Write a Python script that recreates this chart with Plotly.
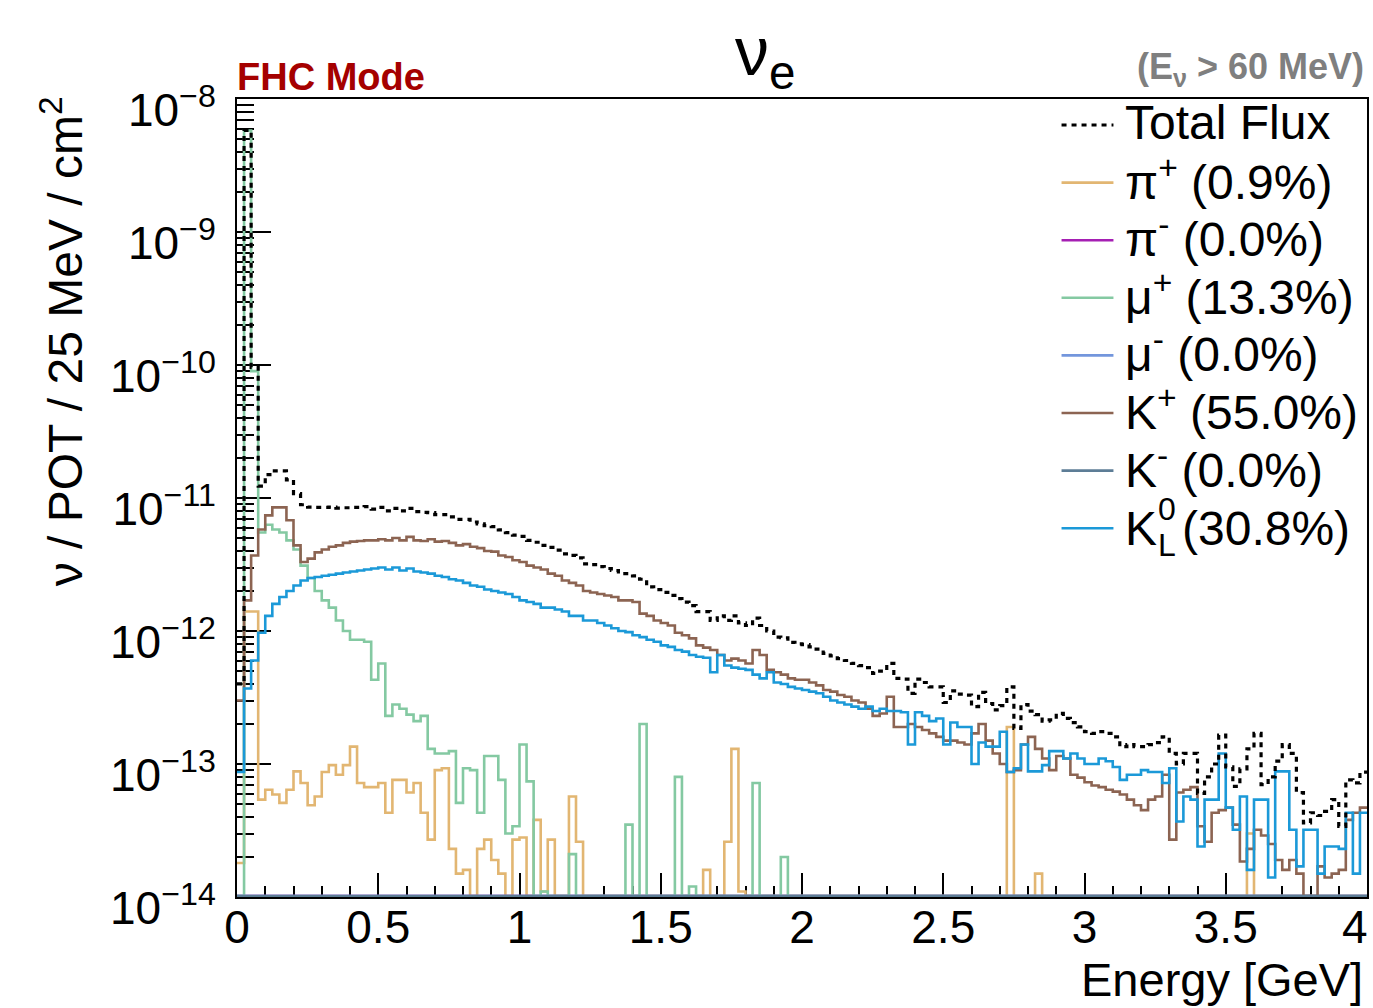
import plotly.graph_objects as go

# ---------------- data (nu / POT / 25 MeV / cm^2, 25 MeV bins from 0 to 4 GeV) ----------------
bin_width = 0.025
n_bins = 160
bin_edges = [round(i * bin_width, 4) for i in range(n_bins + 1)]

total_flux = [
    4.0e-13, 5.8e-9, 9.6e-11, 1.23e-11, 1.5e-11, 1.6e-11, 1.6e-11, 1.37e-11, 1.08e-11, 8.9e-12,
    8.55e-12, 8.5e-12, 8.5e-12, 8.55e-12, 8.4e-12, 8.45e-12, 8.5e-12, 8.5e-12, 8.6e-12, 8.25e-12,
    8.5e-12, 8.0e-12, 8.35e-12, 8.0e-12, 8.35e-12, 7.9e-12, 7.8e-12, 7.75e-12, 7.5e-12, 7.5e-12,
    7.2e-12, 6.9e-12, 6.9e-12, 6.6e-12, 6.4e-12, 6.2e-12, 6.1e-12, 5.75e-12, 5.5e-12, 5.25e-12,
    5.15e-12, 4.8e-12, 4.65e-12, 4.4e-12, 4.25e-12, 4.05e-12, 3.8e-12, 3.7e-12, 3.55e-12, 3.2e-12,
    3.15e-12, 3.05e-12, 2.95e-12, 2.85e-12, 2.7e-12, 2.7e-12, 2.6e-12, 2.45e-12, 2.15e-12, 2.05e-12,
    1.95e-12, 1.85e-12, 1.75e-12, 1.65e-12, 1.55e-12, 1.4e-12, 1.4e-12, 1.2e-12, 1.3e-12, 1.2e-12,
    1.3e-12, 1.15e-12, 1.1e-12, 1.25e-12, 1.1e-12, 1.0e-12, 9.0e-13, 8.9e-13, 8.2e-13, 8.0e-13,
    7.9e-13, 7.6e-13, 7.3e-13, 6.8e-13, 6.5e-13, 6.2e-13, 6.0e-13, 5.7e-13, 5.5e-13, 5.3e-13,
    4.8e-13, 5.0e-13, 5.7e-13, 4.4e-13, 4.35e-13, 3.4e-13, 4.35e-13, 4.1e-13, 3.8e-13, 3.8e-13,
    2.9e-13, 3.55e-13, 3.35e-13, 3.3e-13, 2.7e-13, 3.45e-13, 2.85e-13, 2.55e-13, 2.75e-13, 3.8e-13,
    1.85e-13, 2.8e-13, 2.5e-13, 2.35e-13, 2.1e-13, 2.15e-13, 2.4e-13, 2.2e-13, 2.05e-13, 1.9e-13,
    1.75e-13, 1.7e-13, 1.75e-13, 1.7e-13, 1.6e-13, 1.35e-13, 1.4e-13, 1.35e-13, 1.35e-13, 1.4e-13,
    1.45e-13, 1.6e-13, 1.2e-13, 1.0e-13, 1.2e-13, 1.2e-13, 6.0e-14, 8.0e-14, 1.0e-13, 1.65e-13,
    9.5e-14, 6.8e-14, 9.2e-14, 1.3e-13, 1.7e-13, 7.0e-14, 8.0e-14, 1.05e-13, 1.4e-13, 1.2e-13,
    6.1e-14, 3.6e-14, 4.3e-14, 4.1e-14, 4.4e-14, 5.4e-14, 3.4e-14, 7.6e-14, 7.2e-14, 8.7e-14,
]

pi_plus = [
    1.8e-14, 1.4e-12, 1.4e-12, 5.4e-14, 6.4e-14, 5.9e-14, 5.1e-14, 6.4e-14, 8.8e-14, 7.2e-14,
    4.9e-14, 5.7e-14, 8.7e-14, 9.8e-14, 8.3e-14, 9.8e-14, 1.35e-13, 7.2e-14, 6.7e-14, 6.7e-14,
    7.2e-14, 4.3e-14, 7.6e-14, 7.6e-14, 6.1e-14, 7.2e-14, 4.3e-14, 2.7e-14, 9.0e-14, 9.3e-14,
    2.3e-14, 1.5e-14, 1.6e-14, 0, 2.3e-14, 2.7e-14, 1.9e-14, 1.5e-14, 0, 2.7e-14,
    2.8e-14, 0, 3.8e-14, 1.1e-14, 2.7e-14, 0, 0, 5.7e-14, 2.6e-14, 0,
    0, 0, 0, 0, 0, 0, 0, 0, 0, 0,
    0, 0, 0, 0, 0, 0, 1.6e-14, 0, 0, 2.6e-14,
    1.3e-13, 1.1e-14, 0, 0, 0, 0, 0, 0, 0, 0,
    0, 0, 0, 0, 0, 0, 0, 0, 0, 0,
    0, 0, 0, 0, 0, 0, 0, 0, 0, 0,
    0, 0, 0, 0, 0, 0, 0, 0, 0, 1.9e-13,
    0, 0, 0, 1.5e-14, 0, 0, 0, 0, 0, 0,
    0, 0, 0, 0, 0, 0, 0, 0, 0, 0,
    0, 0, 0, 0, 0, 0, 0, 0, 0, 0,
    0, 0, 0, 3.0e-14, 0, 0, 0, 0, 0, 0,
    0, 0, 0, 0, 0, 0, 0, 0, 0, 0,
]

pi_minus = [0.0] * n_bins

mu_plus = [
    0, 5.8e-9, 9.0e-11, 5.5e-12, 6.3e-12, 5.8e-12, 5.5e-12, 4.8e-12, 4.1e-12, 3.1e-12,
    2.5e-12, 2.0e-12, 1.7e-12, 1.5e-12, 1.2e-12, 1.0e-12, 8.6e-13, 8.6e-13, 8.3e-13, 4.3e-13,
    5.7e-13, 2.3e-13, 2.8e-13, 2.6e-13, 2.35e-13, 2.1e-13, 2.3e-13, 1.3e-13, 1.2e-13, 1.2e-13,
    1.25e-13, 5.1e-14, 9.3e-14, 9.0e-14, 4.3e-14, 1.15e-13, 1.15e-13, 7.6e-14, 3.0e-14, 3.4e-14,
    1.4e-13, 7.4e-14, 0, 1.1e-14, 0, 0, 0, 2.1e-14, 0, 0,
    0, 0, 0, 0, 0, 3.5e-14, 0, 2.0e-13, 0, 0,
    0, 0, 8.0e-14, 0, 1.2e-14, 0, 0, 0, 0, 0,
    0, 0, 0, 7.2e-14, 0, 0, 0, 2.0e-14, 0, 0,
] + [0.0] * 80

mu_minus = [0.0] * n_bins

k_plus = [
    3.0e-13, 1.7e-12, 3.7e-12, 5.8e-12, 7.4e-12, 8.5e-12, 8.5e-12, 6.8e-12, 4.4e-12, 3.3e-12,
    3.5e-12, 3.9e-12, 4.1e-12, 4.3e-12, 4.4e-12, 4.6e-12, 4.7e-12, 4.75e-12, 4.8e-12, 4.8e-12,
    4.9e-12, 4.8e-12, 5.0e-12, 4.8e-12, 5.1e-12, 4.8e-12, 4.75e-12, 4.9e-12, 4.7e-12, 4.75e-12,
    4.6e-12, 4.4e-12, 4.5e-12, 4.3e-12, 4.2e-12, 4.0e-12, 3.95e-12, 3.7e-12, 3.6e-12, 3.4e-12,
    3.3e-12, 3.1e-12, 3.0e-12, 2.9e-12, 2.7e-12, 2.6e-12, 2.4e-12, 2.3e-12, 2.2e-12, 2.0e-12,
    1.95e-12, 1.9e-12, 1.85e-12, 1.8e-12, 1.7e-12, 1.7e-12, 1.65e-12, 1.35e-12, 1.3e-12, 1.2e-12,
    1.15e-12, 1.1e-12, 9.7e-13, 9.3e-13, 8.8e-13, 7.8e-13, 7.5e-13, 7.2e-13, 6.6e-13, 6.0e-13,
    6.2e-13, 6.0e-13, 5.7e-13, 7.2e-13, 6.6e-13, 5.1e-13, 4.9e-13, 4.7e-13, 4.4e-13, 4.3e-13,
    4.3e-13, 4.1e-13, 3.9e-13, 3.6e-13, 3.5e-13, 3.3e-13, 3.2e-13, 3.0e-13, 2.9e-13, 2.6e-13,
    2.3e-13, 2.4e-13, 3.2e-13, 1.9e-13, 1.9e-13, 2.0e-13, 1.9e-13, 1.8e-13, 1.7e-13, 1.6e-13,
    1.5e-13, 1.5e-13, 1.45e-13, 1.4e-13, 1.7e-13, 2.0e-13, 1.5e-13, 1.2e-13, 1.0e-13, 8.7e-14,
    9.0e-14, 1.4e-13, 1.6e-13, 1.3e-13, 1.1e-13, 9.0e-14, 1.15e-13, 1.1e-13, 8.3e-14, 7.9e-14,
    7.3e-14, 6.9e-14, 6.7e-14, 6.4e-14, 6.2e-14, 5.9e-14, 5.4e-14, 4.9e-14, 4.5e-14, 5.4e-14,
    5.7e-14, 8.3e-14, 2.7e-14, 6.1e-14, 6.4e-14, 6.7e-14, 3.4e-14, 2.6e-14, 4.3e-14, 4.5e-14,
    4.7e-14, 3.5e-14, 1.85e-14, 2.3e-14, 3.2e-14, 2.9e-14, 2.5e-14, 1.9e-14, 1.6e-14, 1.9e-14,
    1.5e-14, 0, 0, 1.7e-14, 1.4e-14, 1.5e-14, 1.6e-14, 3.8e-14, 4.3e-14, 4.7e-14,
]

k_minus = [0.0] * n_bins

k_long = [
    8.7e-14, 3.7e-13, 6.0e-13, 9.7e-13, 1.3e-12, 1.6e-12, 1.8e-12, 2.0e-12, 2.2e-12, 2.4e-12,
    2.5e-12, 2.55e-12, 2.6e-12, 2.65e-12, 2.7e-12, 2.75e-12, 2.8e-12, 2.85e-12, 2.9e-12, 2.95e-12,
    3.0e-12, 2.9e-12, 3.0e-12, 2.85e-12, 2.95e-12, 2.8e-12, 2.75e-12, 2.7e-12, 2.6e-12, 2.55e-12,
    2.45e-12, 2.4e-12, 2.3e-12, 2.2e-12, 2.15e-12, 2.05e-12, 2.0e-12, 1.95e-12, 1.9e-12, 1.8e-12,
    1.7e-12, 1.65e-12, 1.6e-12, 1.5e-12, 1.5e-12, 1.45e-12, 1.4e-12, 1.3e-12, 1.3e-12, 1.2e-12,
    1.2e-12, 1.15e-12, 1.1e-12, 1.05e-12, 1.0e-12, 9.8e-13, 9.3e-13, 9.0e-13, 8.6e-13, 8.3e-13,
    7.8e-13, 7.6e-13, 7.2e-13, 7.0e-13, 6.6e-13, 6.4e-13, 6.3e-13, 4.9e-13, 6.6e-13, 5.5e-13,
    5.3e-13, 5.2e-13, 5.1e-13, 4.7e-13, 4.4e-13, 4.9e-13, 4.1e-13, 4.0e-13, 3.8e-13, 3.7e-13,
    3.6e-13, 3.5e-13, 3.4e-13, 3.2e-13, 3.0e-13, 2.9e-13, 2.8e-13, 2.7e-13, 2.6e-13, 2.7e-13,
    2.5e-13, 2.6e-13, 2.5e-13, 2.5e-13, 2.45e-13, 1.4e-13, 2.45e-13, 2.3e-13, 2.1e-13, 2.2e-13,
    1.4e-13, 2.05e-13, 1.9e-13, 1.9e-13, 1.0e-13, 1.45e-13, 1.35e-13, 1.35e-13, 1.75e-13, 8.7e-14,
    9.3e-14, 1.4e-13, 8.8e-14, 8.8e-14, 9.8e-14, 1.25e-13, 1.25e-13, 1.1e-13, 1.2e-13, 1.1e-13,
    1.0e-13, 1.0e-13, 1.1e-13, 1.05e-13, 9.5e-14, 7.6e-14, 8.3e-14, 8.3e-14, 9.0e-14, 8.7e-14,
    8.7e-14, 7.2e-14, 9.3e-14, 3.7e-14, 5.7e-14, 5.4e-14, 2.4e-14, 5.4e-14, 5.4e-14, 1.2e-13,
    4.7e-14, 3.2e-14, 5.7e-14, 1.6e-14, 5.4e-14, 5.4e-14, 1.4e-14, 8.8e-14, 8.8e-14, 3.2e-14,
    1.7e-14, 3.2e-14, 3.2e-14, 1.5e-14, 2.4e-14, 2.4e-14, 2.3e-14, 4.3e-14, 1.5e-14, 4.3e-14,
]

series_names = [
    "Total Flux",
    "π<sup>+</sup> (0.9%)",
    "π<sup>-</sup> (0.0%)",
    "μ<sup>+</sup> (13.3%)",
    "μ<sup>-</sup> (0.0%)",
    "K<sup>+</sup> (55.0%)",
    "K<sup>-</sup> (0.0%)",
    "K<sup>0</sup><sub>L</sub> (30.8%)",
]
# K0_L legend label drawn as stacked pieces: symbol, superscript, subscript, fraction
kl_symbol, kl_sup, kl_sub, kl_fraction = "K", "0", "L", "(30.8%)"

y_tick_exponents = [-14, -13, -12, -11, -10, -9, -8]
x_tick_values = [0, 0.5, 1, 1.5, 2, 2.5, 3, 3.5, 4]
x_tick_labels = ["0", "0.5", "1", "1.5", "2", "2.5", "3", "3.5", ""]
x_last_label = "4"

# ---------------- styling ----------------
FONT = "Liberation Sans, Arial, Helvetica, sans-serif"
Y_MIN_EXP, Y_MAX_EXP = -14, -8
FLOOR = 10 ** (Y_MIN_EXP + 0.008)   # empty bins are drawn on the bottom of the frame (ROOT style)

colors = {
    "total": "#000000",
    "pi_plus": "#e2b672",
    "pi_minus": "#a51fb3",
    "mu_plus": "#84c9a2",
    "mu_minus": "#7396dc",
    "k_plus": "#8c6452",
    "k_minus": "#5d7d96",
    "k_long": "#1b99d8",
}
TOTAL_DASH = "5px,5px"

W, H = 1373, 1008
ML, MR, MT, MB = 237, 4, 99, 111
PW, PH = W - ML - MR, H - MT - MB


def px_x(px):
    return (px - ML) / PW


def px_y(py):
    return (H - MB - py) / PH


def step_y(vals):
    ys = [v if v > 0 else FLOOR for v in vals]
    return ys + [ys[-1]]


def hist_trace(vals, name, color, width=2.6, dash=None):
    return go.Scatter(
        x=bin_edges,
        y=step_y(vals),
        mode="lines",
        name=name,
        showlegend=False,
        line=dict(shape="hv", color=color, width=width, dash=dash),
        hoverinfo="skip",
    )


fig = go.Figure()
fig.add_trace(hist_trace(pi_plus, series_names[1], colors["pi_plus"]))
fig.add_trace(hist_trace(pi_minus, series_names[2], colors["pi_minus"]))
fig.add_trace(hist_trace(mu_plus, series_names[3], colors["mu_plus"]))
fig.add_trace(hist_trace(mu_minus, series_names[4], colors["mu_minus"]))
fig.add_trace(hist_trace(k_plus, series_names[5], colors["k_plus"]))
fig.add_trace(hist_trace(k_minus, series_names[6], colors["k_minus"]))
fig.add_trace(hist_trace(k_long, series_names[7], colors["k_long"]))
fig.add_trace(hist_trace(total_flux, series_names[0], colors["total"], width=3.2, dash=TOTAL_DASH))

y_major = [10.0 ** e for e in y_tick_exponents]
y_labels = ["10<sup>−%d</sup>" % (-e) for e in y_tick_exponents]
y_minor = [k * 10.0 ** e for e in range(Y_MIN_EXP, Y_MAX_EXP) for k in range(2, 10)]

# ---------------- legend (ROOT TLegend look: long line samples, tight rows) ----------------
legend_colors = [colors[k] for k in ["total", "pi_plus", "pi_minus", "mu_plus", "mu_minus",
                                     "k_plus", "k_minus", "k_long"]]
LEG_X0, LEG_X1, LEG_TEXT_X = 1063, 1115, 1126
LEG_ROW0, LEG_ROW_STEP = 125, 57.6
LEG_FONT = 48
shapes = []
annotations = []


def leg_text(text, xpx, ypx, size=LEG_FONT):
    return dict(text=text, x=px_x(xpx), y=px_y(ypx), xref="paper", yref="paper",
                xanchor="left", yanchor="middle", showarrow=False, borderpad=0,
                font=dict(size=size, family=FONT, color="black"))


for i, col in enumerate(legend_colors):
    yc = LEG_ROW0 + i * LEG_ROW_STEP
    shapes.append(dict(
        type="line", xref="paper", yref="paper",
        x0=px_x(LEG_X0), x1=px_x(LEG_X1), y0=px_y(yc), y1=px_y(yc),
        line=dict(color=col, width=3 if i == 0 else 2.6, dash=(TOTAL_DASH if i == 0 else None)),
    ))
    if i == 0:
        annotations.append(leg_text(series_names[0], LEG_TEXT_X, yc - 3))
    elif i < 7:
        annotations.append(leg_text(series_names[i], LEG_TEXT_X, yc - 4))
    else:
        annotations += [
            leg_text(kl_symbol, LEG_TEXT_X, yc),
            leg_text(kl_sup, 1159, yc - 19, size=32),
            leg_text(kl_sub, 1159, yc + 17, size=32),
            leg_text(kl_fraction, 1183, yc),
        ]

annotations += [
    dict(text="ν<sub>e</sub>", x=px_x(766), y=px_y(56), xref="paper", yref="paper",
         xanchor="center", yanchor="middle", showarrow=False,
         font=dict(size=68, family=FONT, color="black")),
    dict(text="<b>FHC Mode</b>", x=px_x(235), y=px_y(77), xref="paper", yref="paper",
         xanchor="left", yanchor="middle", showarrow=False,
         font=dict(size=38, family=FONT, color="#a50000")),
    dict(text="<b>(E<sub>ν</sub> > 60 MeV)</b>", x=px_x(1368), y=px_y(69), xref="paper", yref="paper",
         xanchor="right", yanchor="middle", showarrow=False,
         font=dict(size=36, family=FONT, color="#7f7f7f")),
    dict(text="Energy [GeV]", x=px_x(1367), y=px_y(980), xref="paper", yref="paper",
         xanchor="right", yanchor="middle", showarrow=False,
         font=dict(size=47, family=FONT, color="black")),
    dict(text="ν / POT / 25 MeV / cm<sup>2</sup>", x=px_x(62), y=px_y(94), xref="paper", yref="paper",
         xanchor="center", yanchor="top", textangle=-90, showarrow=False,
         font=dict(size=48, family=FONT, color="black")),
    dict(text=x_last_label, x=px_x(1372), y=px_y(927), xref="paper", yref="paper",
         xanchor="right", yanchor="middle", showarrow=False,
         font=dict(size=46, family=FONT, color="black")),
]

fig.update_layout(
    width=W,
    height=H,
    margin=dict(l=ML, r=MR, t=MT, b=MB, pad=0),
    paper_bgcolor="white",
    plot_bgcolor="white",
    font=dict(family=FONT, color="black", size=46),
    showlegend=False,
    xaxis=dict(
        range=[0, 4],
        tickmode="array", tickvals=x_tick_values, ticktext=x_tick_labels,
        ticks="inside", ticklen=24, tickwidth=1.5, tickcolor="black",
        minor=dict(ticks="inside", ticklen=11, tickwidth=1.5, tickcolor="black",
                   tickmode="linear", tick0=0, dtick=0.1, showgrid=False),
        showline=True, linecolor="black", linewidth=2, mirror=True,
        showgrid=False, zeroline=False,
        tickfont=dict(size=46, family=FONT),
        ticklabelstandoff=-11,
        layer="below traces",
    ),
    yaxis=dict(
        type="log", range=[Y_MIN_EXP, Y_MAX_EXP],
        tickmode="array", tickvals=y_major, ticktext=y_labels,
        ticks="inside", ticklen=34, tickwidth=1.5, tickcolor="black",
        minor=dict(ticks="inside", ticklen=17, tickwidth=1.5, tickcolor="black",
                   tickmode="array", tickvals=y_minor, showgrid=False),
        showline=True, linecolor="black", linewidth=2, mirror=True,
        showgrid=False, zeroline=False,
        tickfont=dict(size=46, family=FONT),
        ticklabelstandoff=10,
        ticklabelshift=11,
        layer="below traces",
    ),
    shapes=shapes,
    annotations=annotations,
)

fig.write_html("out.html")
